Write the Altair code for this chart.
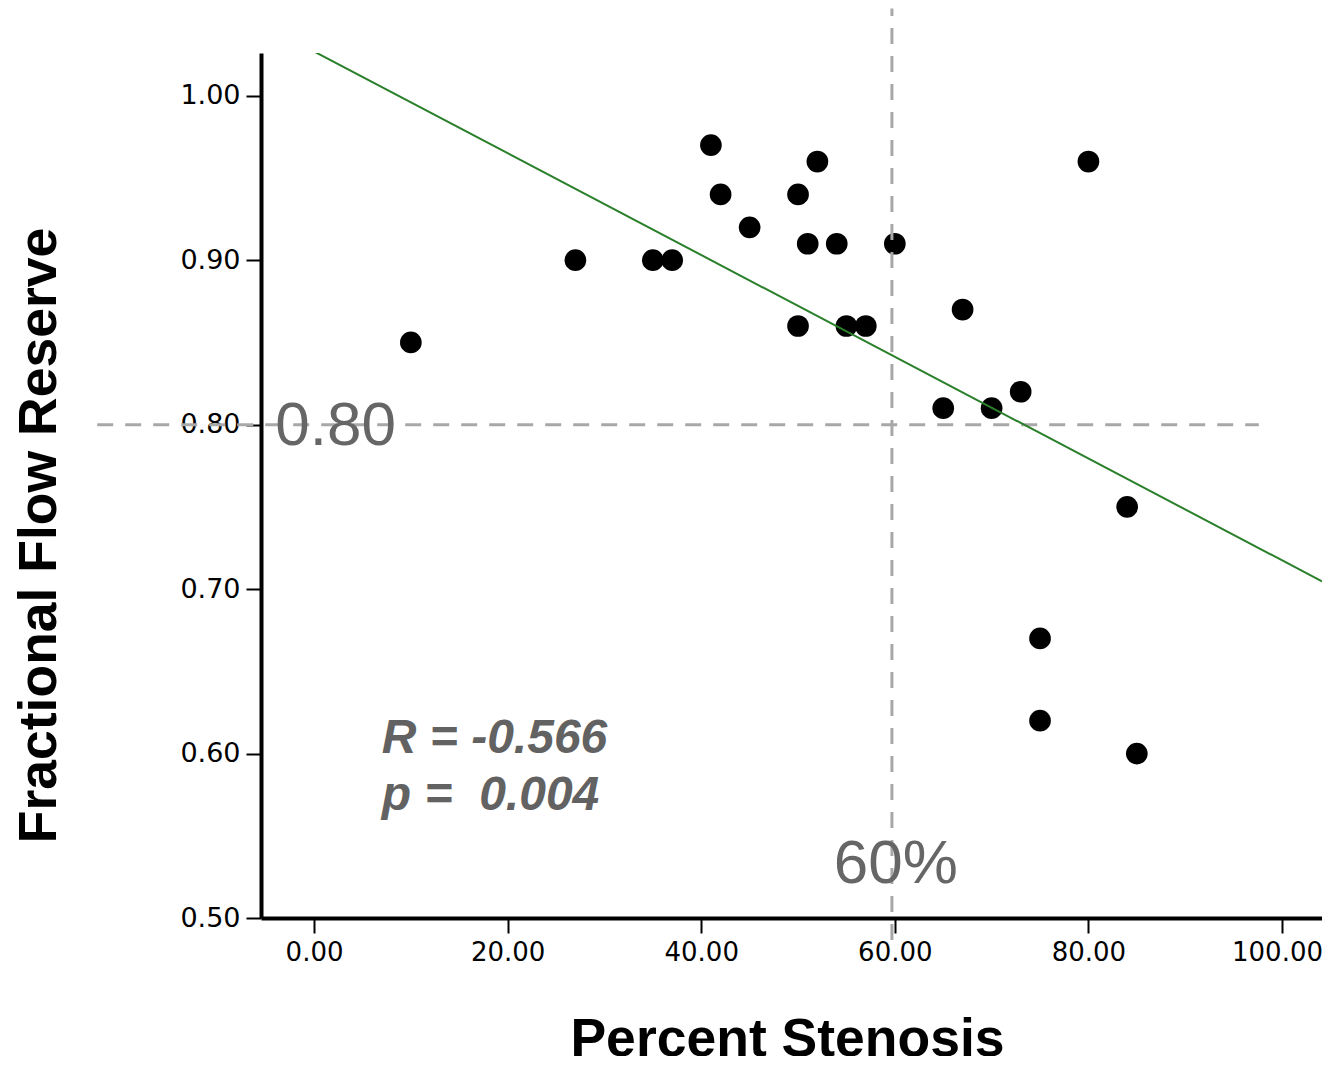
import altair as alt
import pandas as pd

# Data
stenosis = [10, 27, 35, 37, 41, 42, 45, 50, 52, 51, 54, 50, 55, 57, 60, 67, 65, 70, 73, 80, 84, 75, 75, 85]
ffr = [0.85, 0.90, 0.90, 0.90, 0.97, 0.94, 0.92, 0.94, 0.96, 0.91, 0.91, 0.86, 0.86, 0.86, 0.91, 0.87,
       0.81, 0.81, 0.82, 0.96, 0.75, 0.67, 0.62, 0.60]

x_ticks = [0, 20, 40, 60, 80, 100]
y_ticks = [0.50, 0.60, 0.70, 0.80, 0.90, 1.00]

# reference lines
h_ref = {"y": [0.80], "x": [-22.4], "x2": [97.6]}
v_ref = {"x": [59.7], "y": [0.4866], "y2": [1.053]}

# annotations
big_labels = {"text": ["0.80", "60%"], "x": [-4.0, 53.7], "y": [0.7877, 0.5213]}
stat_labels = {"text": ["R = -0.566", "p = \u00a00.004"], "x": [7.0, 7.0], "y": [0.6004, 0.5657]}

X_DOM = [-5.48, 104.13]
Y_DOM = [0.5, 1.026]

pts = pd.DataFrame({"x": stenosis, "y": ffr})

xs = alt.Scale(domain=X_DOM, nice=False, zero=False)
ys = alt.Scale(domain=Y_DOM, nice=False, zero=False)

x_axis = alt.Axis(
    values=x_ticks, format=".2f", title="Percent Stenosis",
    labelFont="DejaVu Sans", labelFontSize=26, labelColor="black", labelPadding=6,
    labelOffset={"condition": {"test": "datum.value >= 100", "value": -5}, "value": 0},
    tickSize=15, tickWidth=2, tickColor="black",
    domainWidth=4, domainColor="black", grid=False,
    titleFont="Liberation Sans", titleFontSize=53.5, titleFontWeight="bold", titleColor="black",
    titleX=526, titleY=137, titleBaseline="alphabetic", titleAnchor="middle", titleAlign="center",
)
y_axis = alt.Axis(
    values=y_ticks, format=".2f", title="Fractional Flow Reserve",
    labelFont="DejaVu Sans", labelFontSize=27, labelColor="black", labelPadding=6,
    tickSize=15, tickWidth=2, tickColor="black",
    domainWidth=4, domainColor="black", grid=False,
    titleFont="Liberation Sans", titleFontSize=53.5, titleFontWeight="bold", titleColor="black",
    titleX=-206, titleY=482, titleAngle=270, titleBaseline="alphabetic", titleAlign="center",
)

base = alt.Chart(pts)

points = base.mark_circle(size=470, color="black", opacity=1).encode(
    x=alt.X("x:Q", scale=xs, axis=x_axis),
    y=alt.Y("y:Q", scale=ys, axis=y_axis),
)

fit = base.transform_regression("x", "y", extent=[0, X_DOM[1]]).mark_line(
    color="#2a7f2a", strokeWidth=2, clip=True
).encode(x=alt.X("x:Q", scale=xs), y=alt.Y("y:Q", scale=ys))

hrule = alt.Chart(pd.DataFrame(h_ref)).mark_rule(
    color="#a8a8a8", strokeWidth=3, strokeDash=[16, 12], clip=False
).encode(x=alt.X("x:Q", scale=xs), x2="x2:Q", y=alt.Y("y:Q", scale=ys))

vrule = alt.Chart(pd.DataFrame(v_ref)).mark_rule(
    color="#a8a8a8", strokeWidth=3, strokeDash=[16, 12], clip=False
).encode(x=alt.X("x:Q", scale=xs), y=alt.Y("y:Q", scale=ys), y2="y2:Q")

big_text = alt.Chart(pd.DataFrame(big_labels)).mark_text(
    align="left", baseline="alphabetic", font="Liberation Sans", fontSize=62, color="#666666", clip=False
).encode(x=alt.X("x:Q", scale=xs), y=alt.Y("y:Q", scale=ys), text="text:N")

stat_text = alt.Chart(pd.DataFrame(stat_labels)).mark_text(
    align="left", baseline="alphabetic", font="Liberation Sans", fontSize=48,
    fontWeight="bold", fontStyle="italic", color="#626262"
).encode(x=alt.X("x:Q", scale=xs), y=alt.Y("y:Q", scale=ys), text="text:N")

chart = alt.layer(points, hrule, vrule, fit, big_text, stat_text).properties(
    width=1061, height=865,
    autosize=alt.AutoSizeParams(type="none"),
    padding={"left": 253, "top": 45, "right": 0, "bottom": 138},
    background="white",
).configure_view(stroke=None)

chart.save("out.html", embed_options={"renderer": "svg", "actions": False})
